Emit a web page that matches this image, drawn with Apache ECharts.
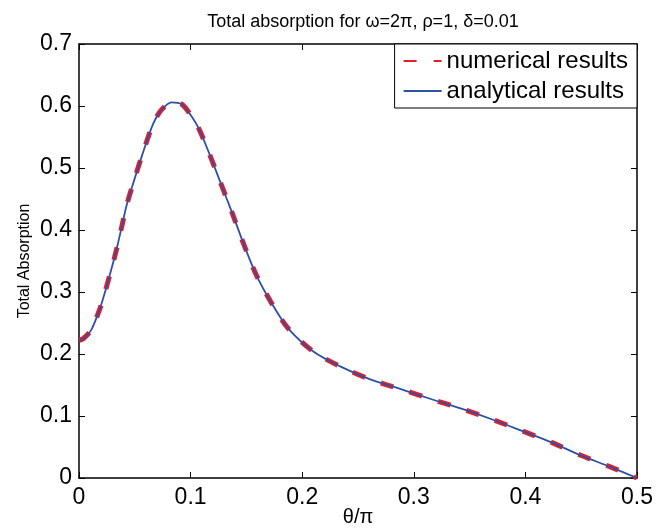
<!DOCTYPE html>
<html>
<head>
<meta charset="utf-8">
<script src="https://cdn.jsdelivr.net/npm/echarts@6/dist/echarts.min.js"></script>
<style>
  html, body { margin: 0; padding: 0; background: #fff; }
  #chart { width: 668px; height: 528px; }
</style>
</head>
<body>
<div id="chart"></div>
<script>
// theta / pi
var thetaVals = [0, 0.004, 0.011, 0.0185, 0.023, 0.0275, 0.032, 0.035, 0.0394, 0.0424, 0.048,
  0.0561, 0.0666, 0.074, 0.083, 0.092, 0.101, 0.108, 0.117, 0.1265, 0.132, 0.138, 0.147,
  0.159, 0.1726, 0.1876, 0.210, 0.234, 0.261, 0.289, 0.316, 0.344, 0.371, 0.397, 0.424,
  0.449, 0.476, 0.5];
// total absorption (both curves coincide)
var absVals = [0.222, 0.225, 0.239, 0.272, 0.298, 0.327, 0.357, 0.379, 0.414, 0.438, 0.472,
  0.518, 0.572, 0.594, 0.606, 0.603, 0.583, 0.561, 0.522, 0.478, 0.452, 0.424, 0.380,
  0.327, 0.282, 0.241, 0.204, 0.180, 0.159, 0.143, 0.127, 0.111, 0.094, 0.076, 0.057,
  0.037, 0.018, 0.000];
var seriesNames = ['numerical results', 'analytical results'];

var pts = thetaVals.map(function (t, i) { return [t, absVals[i]]; });
var font = '"Liberation Sans", Arial, Helvetica, sans-serif';

var myChart = echarts.init(document.getElementById('chart'));

// box axes (top / right copies carry only ticks, like matlab)
function boxAxis(pos, isX) {
  return {
    type: 'value',
    position: pos,
    min: 0,
    max: isX ? 0.5 : 0.7,
    interval: 0.1,
    axisLine: { show: true, onZero: false, lineStyle: { color: '#000', width: 1.5 } },
    axisTick: { show: true, inside: true, length: 6, lineStyle: { color: '#000', width: 1 } },
    axisLabel: { show: false },
    splitLine: { show: false }
  };
}

var option = {
  animation: false,
  backgroundColor: '#fff',
  title: {
    text: 'Total absorption for ω=2π, ρ=1, δ=0.01',
    left: 358,
    textAlign: 'center',
    top: 8,
    textStyle: { color: '#000', fontSize: 18, fontWeight: 'normal', fontFamily: font }
  },
  legend: {
    data: [
      { name: seriesNames[0], itemStyle: { opacity: 0 } },
      { name: seriesNames[1], itemStyle: { opacity: 0 } }
    ],
    orient: 'vertical',
    right: 31,
    top: 44,
    padding: [5, 9, 5, 8],
    itemGap: 6,
    itemWidth: 38,
    itemHeight: 20,
    borderColor: '#000',
    borderWidth: 1,
    backgroundColor: '#fff',
    textStyle: { color: '#000', fontSize: 24, fontFamily: font }
  },
  grid: { left: 79, right: 31, top: 44, bottom: 50, containLabel: false, outerBoundsMode: 'none' },
  xAxis: [
    {
      type: 'value',
      min: 0,
      max: 0.5,
      interval: 0.1,
      name: 'θ/π',
      nameLocation: 'middle',
      nameGap: 29,
      nameMoveOverlap: false,
      nameTextStyle: { color: '#000', fontSize: 20, fontFamily: font },
      axisLine: { show: true, onZero: false, lineStyle: { color: '#000', width: 1.5 } },
      axisTick: { show: true, inside: true, length: 6, lineStyle: { color: '#000', width: 1 } },
      axisLabel: { color: '#000', fontSize: 23, fontFamily: font, margin: 8 },
      splitLine: { show: false }
    },
    boxAxis('top', true)
  ],
  yAxis: [
    {
      type: 'value',
      min: 0,
      max: 0.7,
      interval: 0.1,
      name: 'Total Absorption',
      nameLocation: 'middle',
      nameGap: 46,
      nameMoveOverlap: false,
      nameTextStyle: { color: '#000', fontSize: 16, fontFamily: font },
      axisLine: { show: true, onZero: false, lineStyle: { color: '#000', width: 1.5 } },
      axisTick: { show: true, inside: true, length: 6, lineStyle: { color: '#000', width: 1 } },
      axisLabel: { color: '#000', fontSize: 23, fontFamily: font, margin: 7 },
      splitLine: { show: false }
    },
    boxAxis('right', false)
  ],
  series: [
    {
      name: seriesNames[0],
      type: 'line',
      data: pts,
      smooth: 0.3,
      symbol: 'none',
      lineStyle: { color: '#ec1c24', width: 5, type: [13, 17] },
      itemStyle: { color: '#ec1c24' },
      z: 2
    },
    {
      name: seriesNames[1],
      type: 'line',
      data: pts,
      smooth: 0.3,
      symbol: 'none',
      lineStyle: { color: '#3050a4', width: 1.8 },
      itemStyle: { color: '#3050a4' },
      z: 3
    }
  ]
};

myChart.setOption(option);
</script>
</body>
</html>
